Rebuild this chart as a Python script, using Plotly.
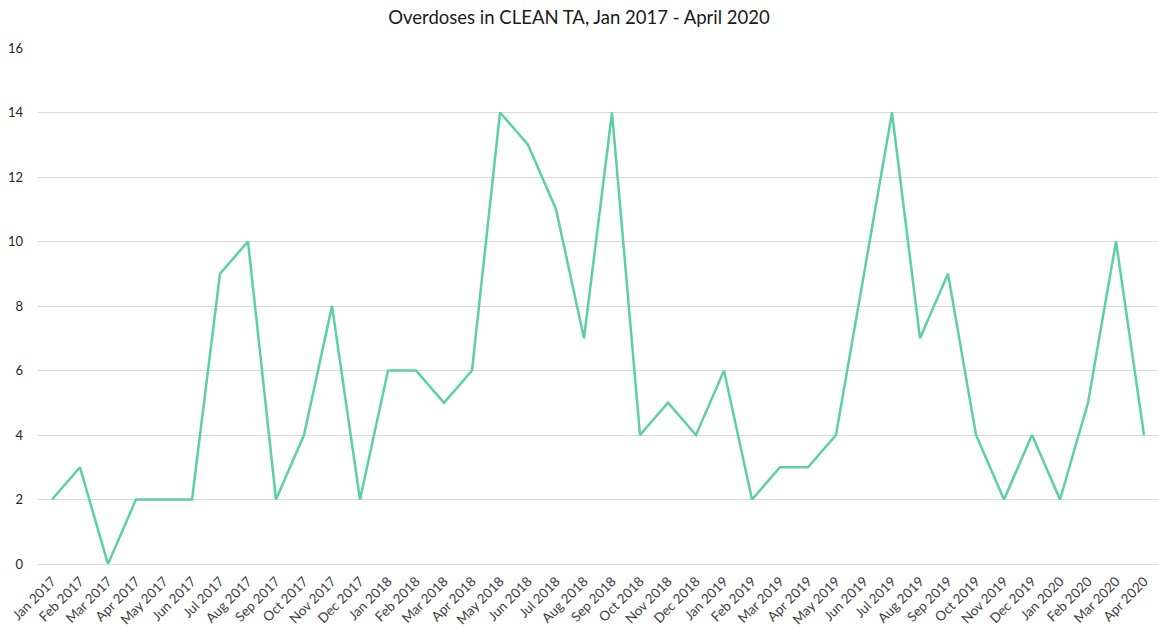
import plotly.graph_objects as go

months = ["Jan 2017","Feb 2017","Mar 2017","Apr 2017","May 2017","Jun 2017","Jul 2017","Aug 2017",
          "Sep 2017","Oct 2017","Nov 2017","Dec 2017","Jan 2018","Feb 2018","Mar 2018","Apr 2018",
          "May 2018","Jun 2018","Jul 2018","Aug 2018","Sep 2018","Oct 2018","Nov 2018","Dec 2018",
          "Jan 2019","Feb 2019","Mar 2019","Apr 2019","May 2019","Jun 2019","Jul 2019","Aug 2019",
          "Sep 2019","Oct 2019","Nov 2019","Dec 2019","Jan 2020","Feb 2020","Mar 2020","Apr 2020"]
overdoses = [2,3,0,2,2,2,9,10,2,4,8,2,6,6,5,6,14,13,11,7,14,4,5,4,6,2,3,3,4,9,14,7,9,4,2,4,2,5,10,4]
y_ticks = [0,2,4,6,8,10,12,14,16]

fig = go.Figure()
fig.add_trace(go.Scatter(x=months, y=overdoses, mode="lines",
                         line=dict(color="#5ccfa5", width=2.5)))
fig.update_layout(
    width=1158, height=632,
    margin=dict(l=38, r=0, t=48, b=68),
    paper_bgcolor="white", plot_bgcolor="white",
    font=dict(family="Lato, Open Sans, sans-serif", color="#404040"),
    title=dict(text="Overdoses in CLEAN TA, Jan 2017 - April 2020", x=0.5, xanchor="center",
               y=0.973, yanchor="middle", font=dict(size=18.5, color="#1a1a1a")),
    showlegend=False,
)
fig.update_xaxes(type="category", range=[-0.5, 39.5], tickangle=-45, showgrid=False,
                 showline=False, ticks="", ticklabelstandoff=6,
                 tickfont=dict(size=13.5, color="#404040"))
fig.update_yaxes(range=[0, 16], tickvals=y_ticks, showgrid=True, gridcolor="#d9d9d9", gridwidth=1,
                 zeroline=True, zerolinecolor="#d9d9d9", zerolinewidth=1, showline=False,
                 ticks="", ticklabelstandoff=14, tickfont=dict(size=13, color="#262626"))
fig.write_html("out.html")
